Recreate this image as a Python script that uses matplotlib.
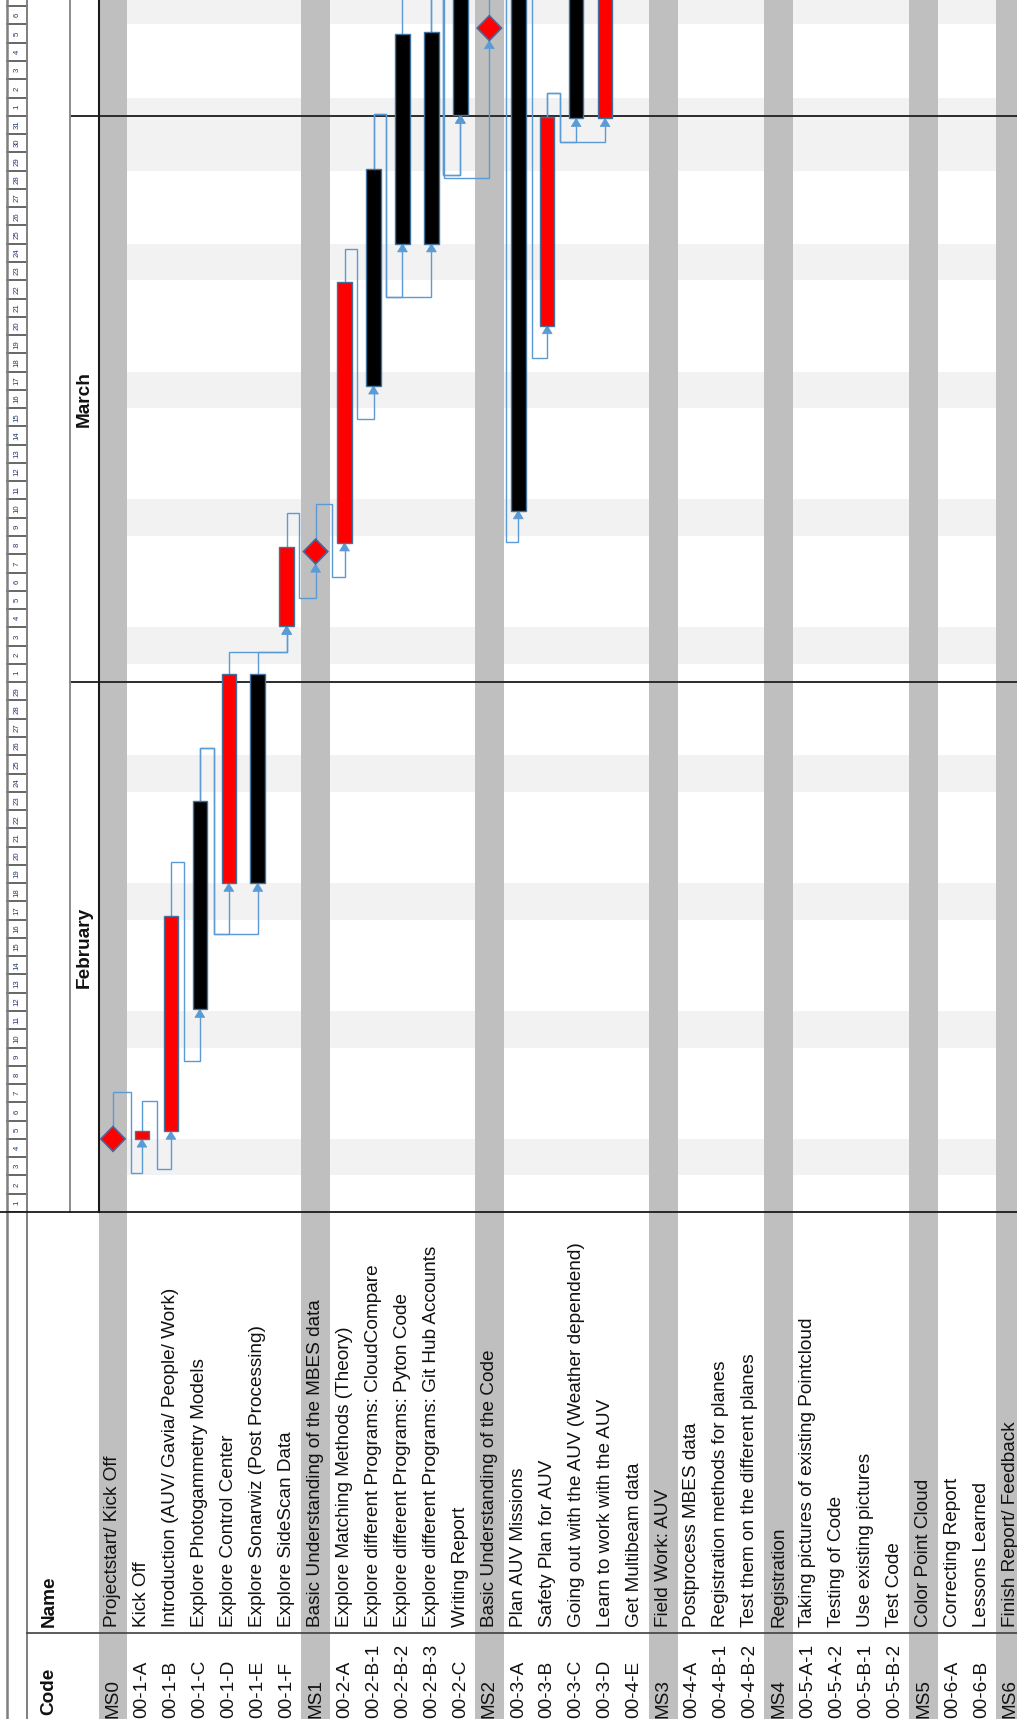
import matplotlib
matplotlib.use("Agg")
import matplotlib.pyplot as plt
from matplotlib.patches import Polygon

plt.rcParams['font.family'] = ['Liberation Sans', 'DejaVu Sans']

# task sheet: one row per code
codes = ["MS0", "00-1-A", "00-1-B", "00-1-C", "00-1-D", "00-1-E", "00-1-F",
         "MS1", "00-2-A", "00-2-B-1", "00-2-B-2", "00-2-B-3", "00-2-C",
         "MS2", "00-3-A", "00-3-B", "00-3-C", "00-3-D", "00-4-E",
         "MS3", "00-4-A", "00-4-B-1", "00-4-B-2",
         "MS4", "00-5-A-1", "00-5-A-2", "00-5-B-1", "00-5-B-2",
         "MS5", "00-6-A", "00-6-B", "MS6"]
names = ["Projectstart/ Kick Off", "Kick Off",
         "Introduction (AUV/ Gavia/ People/ Work)",
         "Explore Photogammetry Models", "Explore Control Center",
         "Explore Sonarwiz (Post Processing)", "Explore SideScan Data",
         "Basic Understanding of the MBES data",
         "Explore Matching Methods (Theory)",
         "Explore different Programs: CloudCompare",
         "Explore different Programs: Pyton Code",
         "Explore different Programs: Git Hub Accounts",
         "Writing Report", "Basic Understanding of the Code",
         "Plan AUV Missions", "Safety Plan for AUV",
         "Going out with the AUV (Weather dependend)",
         "Learn to work with the AUV", "Get Multibeam data",
         "Field Work: AUV", "Postprocess MBES data",
         "Registration methods for planes",
         "Test them on the different planes", "Registration",
         "Taking pictures of existing Pointcloud", "Testing of Code",
         "Use existing pictures", "Test Code", "Color Point Cloud",
         "Correcting Report", "Lessons Learned", "Finish Report/ Feedback"]

# time in days counted from 1 February
months = ["February", "March", "April"]
month_days = [29, 31, 30]
free_days = [(2, 4), (9, 11), (16, 18), (23, 25), (30, 32), (37, 39),
             (44, 46), (51, 53), (57, 61), (65, 67)]

# (code, start, finish, colour)
tasks = [("00-1-A", 4.0, 4.45, "red"),
         ("00-1-B", 4.43, 16.2, "red"),
         ("00-1-C", 11.1, 22.5, "black"),
         ("00-1-D", 18.0, 29.45, "red"),
         ("00-1-E", 18.0, 29.45, "black"),
         ("00-1-F", 32.07, 36.4, "red"),
         ("00-2-A", 36.63, 50.92, "red"),
         ("00-2-B-1", 45.22, 57.1, "black"),
         ("00-2-B-2", 53.0, 64.5, "black"),
         ("00-2-B-3", 53.0, 64.6, "black"),
         ("00-2-C", 60.04, 71.0, "black"),
         ("00-3-A", 38.39, 75.0, "black"),
         ("00-3-B", 48.52, 59.95, "red"),
         ("00-3-C", 59.86, 72.0, "black"),
         ("00-3-D", 59.86, 72.0, "red")]
milestones = [("MS0", 4.0), ("MS1", 36.15), ("MS2", 64.8)]

# links: predecessor, successor, run past finish, run before start, lane
links = [("MS0", "00-1-A", 1.89, 1.87, 0.62),
         ("00-1-A", "00-1-B", 1.63, 2.08, 1.52),
         ("00-1-B", "00-1-C", 2.93, 2.82, 2.45),
         ("00-1-C", "00-1-D", 2.87, 2.77, 3.48),
         ("00-1-C", "00-1-E", 2.87, 2.77, 3.48),
         ("00-1-D", "00-1-F", 1.22, 1.40, 5.5),
         ("00-1-E", "00-1-F", 1.22, 1.40, 5.5),
         ("00-1-F", "MS1", 1.88, 1.87, 6.42),
         ("MS1", "00-2-A", 1.92, 1.86, 7.55),
         ("00-2-A", "00-2-B-1", 1.80, 1.79, 8.43),
         ("00-2-B-1", "00-2-B-2", 3.0, 2.9, 9.43),
         ("00-2-B-1", "00-2-B-3", 3.0, 2.9, 9.43),
         ("00-2-B-2", "00-2-C", 3.5, 3.28, 11.39),
         ("00-2-B-3", "00-2-C", 3.5, 3.28, 11.39),
         ("00-2-B-3", "MS2", 3.5, 7.52, 11.45),
         ("MS2", "00-3-A", 3.0, 1.72, 13.57),
         ("00-3-A", "00-3-B", 3.0, 1.78, 14.46),
         ("00-3-B", "00-3-C", 1.30, 1.28, 15.44),
         ("00-3-B", "00-3-D", 1.30, 1.28, 15.44)]

W, H = 1017, 1719
DAY_PX = 18.27
ROW_PX = 28.95
X0 = 98.5    # left edge of the first row
Y0 = 1212.0  # 1 February line
LINK = "#5b9bd5"
EDGE = "#41719c"
MS_GREY = "#bfbfbf"
FS = 13.7

row_of = {c: i for i, c in enumerate(codes)}
is_ms = [c.startswith("MS") for c in codes]
n_rows_vis = (W - X0) / ROW_PX
t_top = Y0 / DAY_PX

fig = plt.figure(figsize=(W / 100, H / 100), dpi=100)

gantt = fig.add_axes([X0 / W, (H - Y0) / H, (W - X0) / W, Y0 / H])
gantt.set_xlim(-0.5, -0.5 + n_rows_vis)
gantt.set_ylim(0, t_top)
gantt.axis("off")

hdr = fig.add_axes([0, (H - Y0) / H, X0 / W, Y0 / H], sharey=gantt)
hdr.set_xlim(0, X0)
hdr.axis("off")

tbl = fig.add_axes([X0 / W, 0, (W - X0) / W, (H - Y0) / H], sharex=gantt)
tbl.set_ylim(H, Y0)
tbl.axis("off")

# non-working days
for a, b in free_days:
    gantt.axhspan(a, b, color="#f2f2f2", zorder=0, lw=0)

# milestone rows shaded through chart and sheet
for i, ms in enumerate(is_ms):
    if ms:
        gantt.axvspan(i - 0.5, i + 0.5, color=MS_GREY, zorder=1, lw=0)
        tbl.axvspan(i - 0.5, i + 0.5, color=MS_GREY, zorder=1, lw=0)

# month boundaries
edges = [0]
for d in month_days:
    edges.append(edges[-1] + d)
for e in edges[1:-1]:
    gantt.axhline(e, color="#2b2b2b", lw=1.4, zorder=2)
    hdr.plot([70, X0], [e, e], color="#2b2b2b", lw=1.4)

# day strip
for k in range(edges[-1] + 1):
    hdr.plot([7.3, 26.7], [k, k], color="#5a5a5a", lw=1.3, clip_on=True)
for m, d in enumerate(month_days):
    for day in range(1, d + 1):
        t = edges[m] + day - 0.5
        if t < t_top:
            hdr.text(17, t, str(day), rotation=90, ha="center", va="center",
                     fontsize=5.6, color="#1f3a6b")
    mid = (edges[m] + edges[m + 1]) / 2
    if mid < t_top:
        hdr.text(84, mid, months[m], rotation=90, ha="center", va="center",
                 fontsize=FS, fontweight="bold", color="#111111")


def start_edge(code):
    for c, s, f, col in tasks:
        if c == code:
            return s
    for c, t in milestones:
        if c == code:
            return t - 0.68


def finish_edge(code):
    for c, s, f, col in tasks:
        if c == code:
            return f
    for c, t in milestones:
        if c == code:
            return t + 0.68


# dependency lines
for p, s, run, back, lane in links:
    xp, xs = row_of[p], row_of[s]
    tp, ts = finish_edge(p), start_edge(s)
    head = 0.45
    if tp + run <= ts - back:
        xx = [xp, xp, xs, xs]
        yy = [tp, tp + run, tp + run, ts - head]
    else:
        xx = [xp, xp, lane, lane, xs, xs]
        yy = [tp, tp + run, tp + run, ts - back, ts - back, ts - head]
    gantt.plot(xx, yy, color=LINK, lw=1.0, zorder=3, solid_joinstyle="miter")
    gantt.add_patch(Polygon([(xs - 0.17, ts - head), (xs + 0.17, ts - head), (xs, ts)],
                            closed=True, fc=LINK, ec=LINK, lw=0.5, zorder=4))

# task bars
for c, s, f, col in tasks:
    gantt.bar(row_of[c], f - s, bottom=s, width=0.5, color=col,
              edgecolor=EDGE, lw=1.0, zorder=5)

# milestones
for c, t in milestones:
    r = row_of[c]
    gantt.add_patch(Polygon([(r, t - 0.68), (r + 0.42, t), (r, t + 0.68), (r - 0.42, t)],
                            closed=True, fc="red", ec="#4f6496", lw=1.2, zorder=6))

# sheet text
for i, (c, n) in enumerate(zip(codes, names)):
    tbl.text(i, 1718, c, rotation=90, ha="center", va="bottom",
             fontsize=FS, color="#111111", clip_on=True)
    tbl.text(i, 1627, n, rotation=90, ha="center", va="bottom",
             fontsize=FS, color="#111111", clip_on=True)

# sheet frame
frame = fig.add_axes([0, 0, 1, 1])
frame.set_xlim(0, W)
frame.set_ylim(H, 0)
frame.axis("off")
frame.plot([7.3, 7.3], [0, H], color="#7f7f7f", lw=1.8)
frame.plot([26.7, 26.7], [0, H], color="#7f7f7f", lw=1.4)
frame.plot([70, 70], [0, Y0], color="#8c8c8c", lw=1.4)
frame.plot([X0, X0], [0, Y0], color="#1a1a1a", lw=1.5)
frame.plot([0, W], [Y0, Y0], color="#1a1a1a", lw=1.3)
frame.plot([26.7, W], [1633, 1633], color="#404040", lw=1.2)
frame.text(49, 1715, "Code", rotation=90, ha="center", va="bottom",
           fontsize=FS, fontweight="bold", color="#111111")
frame.text(49, 1627, "Name", rotation=90, ha="center", va="bottom",
           fontsize=FS, fontweight="bold", color="#111111")

fig.savefig("out.png", dpi=100, facecolor="white")
